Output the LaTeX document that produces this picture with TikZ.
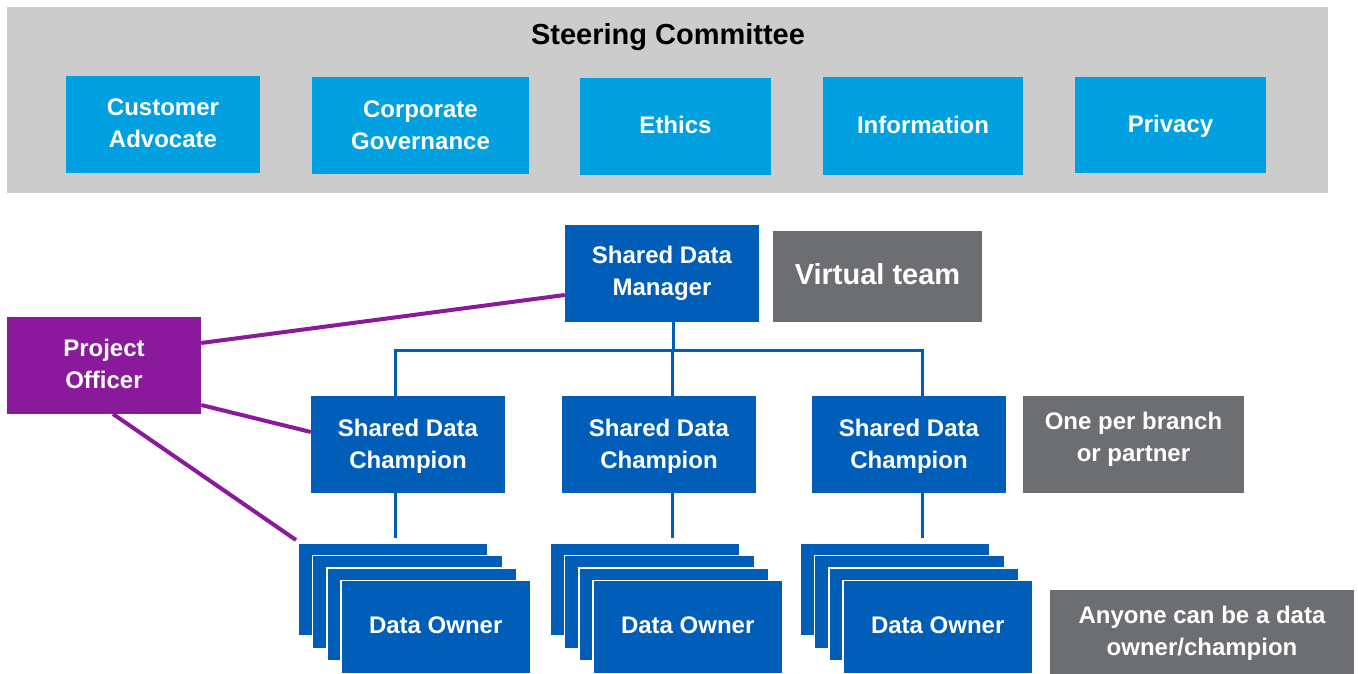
\documentclass[tikz,border=0pt]{standalone}
\usepackage{fontspec}
\setmainfont{Liberation Sans}
\definecolor{band}{HTML}{CCCCCC}
\definecolor{lblue}{HTML}{00A0E1}
\definecolor{dblue}{HTML}{005EB8}
\definecolor{gbox}{HTML}{6D6E71}
\definecolor{purp}{HTML}{8A1A9B}
\tikzset{
  base/.style={inner sep=0pt, align=center, text=white, font=\fontsize{24}{32}\selectfont\bfseries},
  big/.style={font=\fontsize{29}{34}\selectfont\bfseries},
  lbox/.style={base, fill=lblue},
  dbox/.style={base, fill=dblue},
  gboxs/.style={base, fill=gbox},
  pbox/.style={base, fill=purp},
  layer/.style={base, fill=dblue, draw=white, line width=1.5pt, minimum width=190, minimum height=93},
  bline/.style={draw=dblue, line width=3pt},
  pline/.style={draw=purp, line width=4pt},
}
\begin{document}
\begin{tikzpicture}[x=1pt,y=-1pt]
\useasboundingbox (0,0) rectangle (1358,674);
% steering committee band
\node[fill=band, minimum width=1321, minimum height=186, inner sep=0pt] (band) at (667.5,100) {};
\node[big, inner sep=0pt] (title) at (668,37) {Steering Committee};
\node[lbox, minimum width=194, minimum height=97, label={[base,yshift=1pt]center:{Customer\\Advocate}}] (cust) at (163,124.5) {};
\node[lbox, minimum width=217, minimum height=97, label={[base]center:{Corporate\\Governance}}] (corp) at (420.5,125.5) {};
\node[lbox, minimum width=191, minimum height=97, label={[base,yshift=2pt]center:{Ethics}}] (eth) at (675.5,126.5) {};
\node[lbox, minimum width=200, minimum height=98, label={[base,yshift=1pt]center:{Information}}] (info) at (923,126) {};
\node[lbox, minimum width=191, minimum height=96, label={[base,yshift=-1pt]center:{Privacy}}] (priv) at (1170.5,125) {};
% manager
\node[dbox, minimum width=194, minimum height=97, label={[base]center:{Shared Data\\Manager}}] (mgr) at (662,273.5) {};
\node[gboxs, minimum width=209, minimum height=91, label={[base,big,yshift=2pt]center:{Virtual team}}] (virt) at (877.5,276.5) {};
% project officer
\node[pbox, minimum width=194, minimum height=97, label={[base,yshift=2pt]center:{Project\\Officer}}] (po) at (104,365.5) {};
% champions
\node[dbox, minimum width=194, minimum height=97, label={[base,yshift=-2pt]center:{Shared Data\\Champion}}] (ch1) at (408,444.5) {};
\node[dbox, minimum width=194, minimum height=97, label={[base,yshift=-2pt]center:{Shared Data\\Champion}}] (ch2) at (659,444.5) {};
\node[dbox, minimum width=194, minimum height=97, label={[base,yshift=-2pt]center:{Shared Data\\Champion}}] (ch3) at (909,444.5) {};
\node[gboxs, minimum width=221, minimum height=97, label={[base,yshift=5pt]center:{One per branch\\or partner}}] (one) at (1133.5,444.5) {};
\node[gboxs, minimum width=304, minimum height=84, label={[base,yshift=-1pt]center:{Anyone can be a data\\owner/champion}}] (any) at (1202,632) {};
% connectors manager -> champions
\coordinate (bus) at (0,350);
\coordinate (x1) at (395,0);
\coordinate (x2) at (672,0);
\coordinate (x3) at (922,0);
\coordinate (xm) at (673,0);
\draw[bline] (mgr.south -| xm) -- (bus -| xm);
\draw[bline, line join=miter] (ch1.north -| x1) -- (bus -| x1) -- (bus -| x3) -- (ch3.north -| x3);
\draw[bline] (bus -| x2) -- (ch2.north -| x2);
\coordinate (e1) at (296,540);
\draw[bline] (ch1.south -| x1) -- ++(0,45);
\draw[bline] (ch2.south -| x2) -- ++(0,45);
\draw[bline] (ch3.south -| x3) -- ++(0,45);
% purple lines
\draw[pline] (po.east |- 0,343) -- (mgr.west |- 0,295);
\draw[pline] (po.east |- 0,405) -- (ch1.west |- 0,432);
\draw[pline] (113,414) -- (e1);
% data owner stacks
\foreach \s/\n in {297/a,549/b,799/c}{
  \node[layer, anchor=north west] (\n1) at (\s,542) {};
  \node[layer, anchor=north west] (\n2) at (\s+14.5,554.5) {};
  \node[layer, anchor=north west] (\n3) at (\s+29,567) {};
}
\node[layer, anchor=north west, label={[base,yshift=2pt]center:{Data Owner}}] (own1) at (340,579.5) {};
\node[layer, anchor=north west, label={[base,yshift=2pt]center:{Data Owner}}] (own2) at (592,579.5) {};
\node[layer, anchor=north west, label={[base,yshift=2pt]center:{Data Owner}}] (own3) at (842,579.5) {};
\end{tikzpicture}
\end{document}
